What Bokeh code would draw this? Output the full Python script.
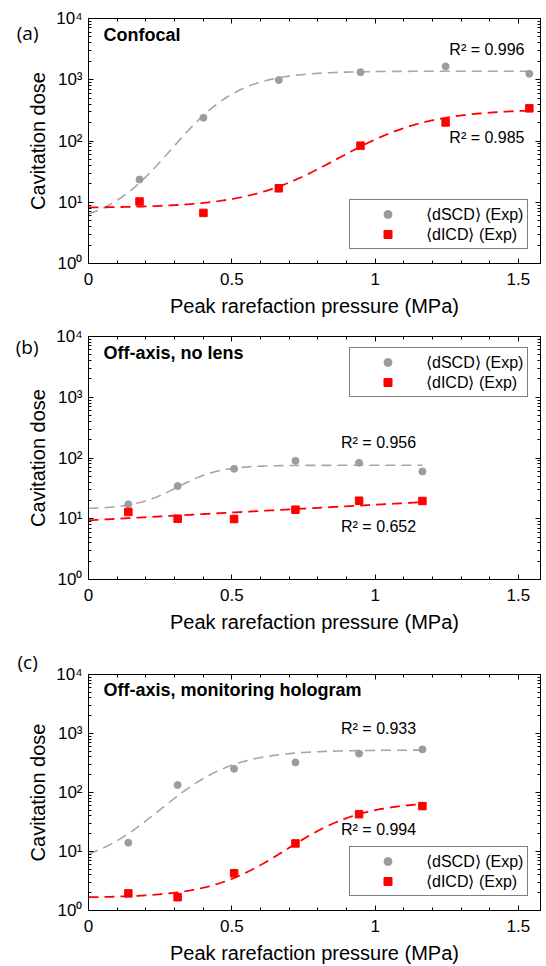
import numpy as np
from bokeh.plotting import figure
from bokeh.models import (Range1d, FixedTicker, LinearAxis, LogAxis, Label,
                          Legend, LegendItem, Title)
from bokeh.layouts import column
from bokeh.embed import file_html
from bokeh.resources import INLINE

# ---------------- data ----------------
x_a = [0.178, 0.401, 0.664, 0.949, 1.246, 1.538]
dscd_a = [23.5, 240, 990, 1330, 1650, 1250]
dicd_a = [10.3, 6.7, 16.9, 84, 201, 341]

x_bc = [0.139, 0.311, 0.508, 0.722, 0.944, 1.165]
dscd_b = [17.3, 34.5, 66.4, 89.8, 83.3, 60.0]
dicd_b = [12.9, 10.0, 9.9, 14.1, 19.8, 19.6]

dscd_c = [14.1, 134, 252, 324, 456, 538]
dicd_c = [1.95, 1.68, 4.28, 13.7, 42.9, 58.8]

# fitted curves: log10(y) = lo + (hi - lo) / (1 + exp(-(x - mid) / width))
fit_scd_a = [0.60, 3.14, 0.29, 0.12]
fit_icd_a = [0.908, 2.52, 0.87, 0.16]
fit_scd_b = [1.16, 1.88, 0.31, 0.075]
# log-linear fit: log10(y) = intercept + slope * x
fit_icd_b = [0.974, 0.257]
fit_scd_c = [0.70, 2.72, 0.25, 0.13]
fit_icd_c = [0.215, 1.85, 0.69, 0.135]

r2_a = ["R² = 0.996", "R² = 0.985"]
r2_b = ["R² = 0.956", "R² = 0.652"]
r2_c = ["R² = 0.933", "R² = 0.994"]

titles = ["Confocal", "Off-axis, no lens", "Off-axis, monitoring hologram"]
tags = ["(a)", "(b)", "(c)"]
legend_labels = ["⟨dSCD⟩ (Exp)", "⟨dICD⟩ (Exp)"]

x_ticks = [0, 0.5, 1, 1.5]
x_tick_labels = ["0", "0.5", "1", "1.5"]
y_ticks = [1, 10, 100, 1000, 10000]
y_tick_labels = ["10⁰", "10¹", "10²", "10³", "10⁴"]

GRAY_PT = "#9c9c9c"
GRAY_LN = "#a6a6a6"
RED = "#ff0000"
FONT = "Liberation Sans"
TAG_FONT = "Open Sans"


def fit_curve(params, x_end):
    xs = np.linspace(0, x_end, 300)
    if len(params) == 4:
        lo, hi, mid, w = params
        ly = lo + (hi - lo) / (1 + np.exp(-(xs - mid) / w))
    else:
        c0, c1 = params
        ly = c0 + c1 * xs
    return xs, 10 ** ly


def make_panel(i, xs, scd, icd, fscd, ficd, r2, height, top, bottom,
               r2_pos, legend_bottom, tag_y=None):
    p = figure(width=541, height=height, x_range=Range1d(0, 1.577),
               y_range=Range1d(1, 1e4), y_axis_type="log",
               output_backend="svg", toolbar_location=None,
               min_border_left=88, min_border_right=1,
               min_border_top=top, min_border_bottom=bottom)
    p.xgrid.visible = False
    p.ygrid.visible = False
    p.outline_line_color = "black"
    p.outline_line_width = 1
    p.background_fill_color = "white"

    minor_x = [k / 10 for k in range(16)]
    minor_y = [m * 10 ** k for k in range(4) for m in range(2, 10)]
    p.xaxis.ticker = FixedTicker(ticks=x_ticks, minor_ticks=minor_x)
    p.yaxis.ticker = FixedTicker(ticks=y_ticks, minor_ticks=minor_y)
    p.xaxis.major_label_overrides = dict(zip(x_ticks, x_tick_labels))
    p.yaxis.major_label_overrides = dict(zip(y_ticks, y_tick_labels))
    p.xaxis.axis_label = "Peak rarefaction pressure (MPa)"
    p.yaxis.axis_label = "Cavitation dose"

    for ax in (p.xaxis[0], p.yaxis[0]):
        ax.major_tick_in = 5
        ax.major_tick_out = 0
        ax.minor_tick_in = 3
        ax.minor_tick_out = 0
        ax.axis_line_color = "black"
        ax.major_tick_line_color = "black"
        ax.minor_tick_line_color = "black"
        ax.major_label_text_font = FONT
        ax.major_label_text_font_size = "17px"
        ax.major_label_text_color = "black"
        ax.axis_label_text_font = FONT
        ax.axis_label_text_font_size = "20px"
        ax.axis_label_text_font_style = "normal"
        ax.axis_label_text_color = "black"
    p.xaxis.major_label_standoff = 9
    p.xaxis.axis_label_standoff = 7
    p.yaxis.major_label_standoff = 6
    p.yaxis.axis_label_standoff = 4

    # mirrored ticks (top / right), no labels
    top_ax = LinearAxis(ticker=FixedTicker(ticks=x_ticks, minor_ticks=minor_x),
                        major_label_overrides={t: "" for t in x_ticks})
    right_ax = LogAxis(ticker=FixedTicker(ticks=y_ticks, minor_ticks=minor_y),
                       major_label_overrides={t: "" for t in y_ticks})
    for ax in (top_ax, right_ax):
        ax.major_tick_in = 5
        ax.major_tick_out = 0
        ax.minor_tick_in = 3
        ax.minor_tick_out = 0
        ax.major_label_standoff = 0
        ax.major_label_text_font_size = "1px"
        ax.axis_line_color = "black"
        ax.major_tick_line_color = "black"
        ax.minor_tick_line_color = "black"
    p.add_layout(top_ax, "above")
    p.add_layout(right_ax, "right")

    # panel tag drawn as the single label of an outer, line-less left axis
    if tag_y is not None:
        tag_ax = LogAxis(ticker=FixedTicker(ticks=[tag_y]),
                         major_label_overrides={tag_y: tags[i]},
                         axis_line_color=None, major_tick_line_color=None,
                         minor_tick_line_color=None, major_tick_in=0,
                         major_tick_out=0, minor_tick_in=0, minor_tick_out=0,
                         major_label_standoff=-14,
                         major_label_text_font=TAG_FONT,
                         major_label_text_font_size="19px",
                         major_label_text_color="black")
        p.add_layout(tag_ax, "left")
    else:
        p.add_layout(Title(text=tags[i], align="left", offset=-71,
                           text_font=TAG_FONT, text_font_size="19px",
                           text_line_height=1.0,
                           text_font_style="normal", text_color="black",
                           standoff=0), "above")

    x_end = xs[-1]
    cx, cy = fit_curve(fscd, x_end)
    p.line(cx, cy, line_color=GRAY_LN, line_width=1.6, line_dash="10 6")
    cx, cy = fit_curve(ficd, x_end)
    p.line(cx, cy, line_color=RED, line_width=1.8, line_dash="10 6")

    r1 = p.scatter(xs, scd, marker="circle", size=7, fill_color=GRAY_PT,
                   line_color=GRAY_PT)
    r2r = p.scatter(xs, icd, marker="square", size=7.5, fill_color=RED,
                    line_color=RED)

    legend = Legend(items=[LegendItem(label=legend_labels[0], renderers=[r1]),
                           LegendItem(label=legend_labels[1], renderers=[r2r])],
                    location=(261, legend_bottom), margin=0, padding=4, spacing=0,
                    glyph_width=67, glyph_height=20, label_height=20,
                    label_standoff=5, label_text_font=FONT,
                    label_text_font_size="16px", label_text_color="black",
                    border_line_color="black",
                    border_line_width=1, background_fill_alpha=1.0)
    p.add_layout(legend)

    p.add_layout(Label(x=0.052, y=10 ** 3.73, text=titles[i],
                       text_font=FONT, text_font_size="18px", text_color="black",
                       text_font_style="bold", text_baseline="alphabetic"))
    for txt, (rx, ry) in zip(r2, r2_pos):
        p.add_layout(Label(x=rx, y=10 ** ry, text=txt, text_font=FONT,
                           text_color="black",
                           text_font_size="16px", text_baseline="alphabetic"))
    return p


pa = make_panel(0, x_a, dscd_a, dicd_a, fit_scd_a, fit_icd_a, r2_a,
                height=326, top=18, bottom=63,
                r2_pos=[(1.259, 3.50), (1.259, 2.05)], legend_bottom=14,
                tag_y=10 ** 3.771)
pb = make_panel(1, x_bc, dscd_b, dicd_b, fit_scd_b, fit_icd_b, r2_b,
                height=320, top=10, bottom=67,
                r2_pos=[(0.881, 2.25), (0.881, 0.87)], legend_bottom=182,
                tag_y=10 ** 3.819)
pc = make_panel(2, x_bc, dscd_c, dicd_c, fit_scd_c, fit_icd_c, r2_c,
                height=320, top=22, bottom=55,
                r2_pos=[(0.881, 3.08), (0.881, 1.37)], legend_bottom=14)

layout = column(pa, pb, pc, spacing=0)
open("out.html", "w").write(file_html(layout, INLINE))
